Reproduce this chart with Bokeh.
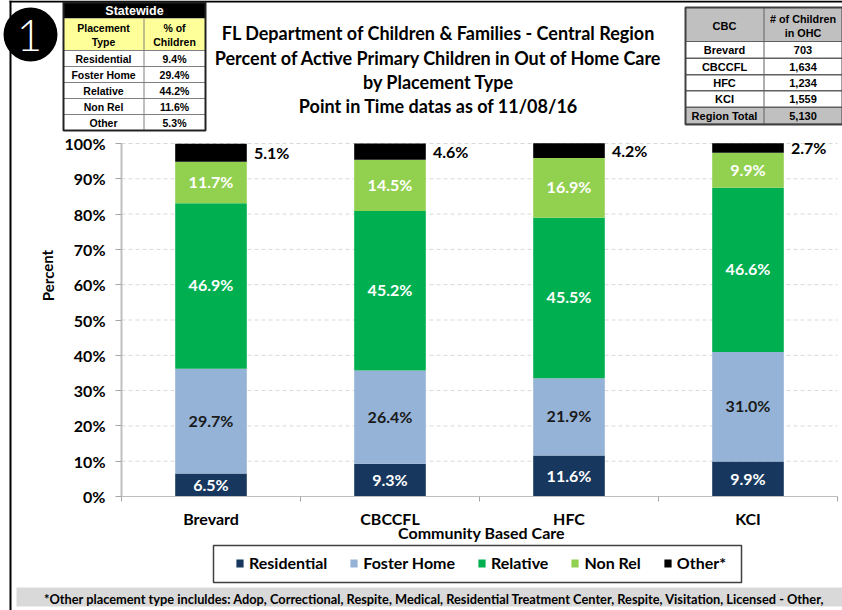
from bokeh.plotting import figure
from bokeh.embed import file_html
from bokeh.resources import INLINE
from bokeh.core.properties import value
from bokeh.models import (ColumnDataSource, Range1d, BoxAnnotation, Label, Legend, LegendItem,
                          FixedTicker, PrintfTickFormatter, LinearAxis)

categories = ["Brevard", "CBCCFL", "HFC", "KCI"]
series_names = ["Residential", "Foster Home", "Relative", "Non Rel", "Other*"]
residential = [6.5, 9.3, 11.6, 9.9]
foster_home = [29.7, 26.4, 21.9, 31.0]
relative = [46.9, 45.2, 45.5, 46.6]
non_rel = [11.7, 14.5, 16.9, 9.9]
other = [5.1, 4.6, 4.2, 2.7]
series_colors = ["#17375E", "#95B3D7", "#00B050", "#92D050", "#000000"]
label_colors = ["#FFFFFF", "#1A1A1A", "#FFFFFF", "#FFFFFF"]
y_ticks = list(range(0, 101, 10))

title_lines = ["FL Department of Children & Families - Central Region",
               "Percent of Active Primary Children in Out of Home Care",
               "by Placement Type",
               "Point in Time datas as of 11/08/16"]
state_title = "Statewide"
state_head = ["Placement\nType", "% of\nChildren"]
state_types = ["Residential", "Foster Home", "Relative", "Non Rel", "Other"]
state_pcts = ["9.4%", "29.4%", "44.2%", "11.6%", "5.3%"]
cbc_head = ["CBC", "# of Children\nin OHC"]
cbc_names = ["Brevard", "CBCCFL", "HFC", "KCI", "Region Total"]
cbc_counts = ["703", "1,634", "1,234", "1,559", "5,130"]
footnote = ("*Other placement type incluldes: Adop, Correctional, Respite, Medical, "
            "Residential Treatment Center, Respite, Visitation, Licensed - Other,")

W, H = 842, 610
FL, FR, FT, FB = 121, 837, 143, 496
BODY = "Lato"
TBL = "Liberation Sans"
n = len(categories)
ux = (FR - FL) / n
uy = (FB - FT) / 100

p = figure(width=W, height=H, output_backend="svg", toolbar_location=None,
           x_range=Range1d(-FL / ux, (W - FL) / ux), y_range=Range1d(-(H - FB) / uy, 100 + FT / uy),
           min_border=0, outline_line_color=None, background_fill_color="white", border_fill_color="white",
           x_axis_type=None, y_axis_type=None)
p.extra_x_ranges["px"] = Range1d(0, W)
p.extra_y_ranges["px"] = Range1d(H, 0)

centers = [i + 0.5 for i in range(n)]
p.segment(x0=[0] * 10, x1=[n] * 10, y0=y_ticks[1:], y1=y_ticks[1:], line_color="#D9D9D9", line_dash="4 3",
          line_width=1, level="underlay")

source = ColumnDataSource(dict(x=centers, **dict(zip(series_names, [residential, foster_home, relative, non_rel, other]))))
bars = p.vbar_stack(series_names, x="x", width=0.4, source=source, color=series_colors, line_color=None)

yaxis = LinearAxis(ticker=FixedTicker(ticks=y_ticks), formatter=PrintfTickFormatter(format="%d%%"),
                   fixed_location=0, bounds=(0, 100))
yaxis.axis_line_color = "#BFBFBF"; yaxis.axis_line_width = 2
yaxis.major_tick_line_color = "#A6A6A6"; yaxis.major_tick_out = 6; yaxis.major_tick_in = 0
yaxis.minor_tick_line_color = None
yaxis.major_label_text_font = BODY; yaxis.major_label_text_font_style = "bold"
yaxis.major_label_text_font_size = "16px"; yaxis.major_label_text_color = "black"
yaxis.major_label_standoff = 10
p.add_layout(yaxis, "left")

xaxis = LinearAxis(ticker=FixedTicker(ticks=centers, minor_ticks=list(range(n + 1))),
                   fixed_location=0, bounds=(0, n))
xaxis.major_label_overrides = {c: t for c, t in zip(centers, categories)}
xaxis.axis_line_color = "#BFBFBF"; xaxis.axis_line_width = 1
xaxis.major_tick_line_color = None; xaxis.major_tick_out = 0; xaxis.major_tick_in = 0
xaxis.minor_tick_line_color = "#A6A6A6"; xaxis.minor_tick_out = 5; xaxis.minor_tick_in = 0
xaxis.major_label_text_font = BODY; xaxis.major_label_text_font_style = "bold"
xaxis.major_label_text_font_size = "16px"; xaxis.major_label_text_color = "black"
xaxis.major_label_standoff = 7
p.add_layout(xaxis, "below")

all_series = [residential, foster_home, relative, non_rel]
bases = [0.0] * n
for vals, col in zip(all_series, label_colors):
    mids = [b + v / 2 for b, v in zip(bases, vals)]
    bases = [b + v for b, v in zip(bases, vals)]
    s = ColumnDataSource(dict(x=centers, y=mids, t=[f"{v:.1f}%" for v in vals]))
    p.text("x", "y", text="t", source=s, text_align="center", text_baseline="middle", y_offset=-1,
           text_color=col, text_font=value(BODY), text_font_style="bold", text_font_size="16px")
s = ColumnDataSource(dict(x=[c + 0.24 for c in centers], y=[b + v / 2 for b, v in zip(bases, other)],
                          t=[f"{v:.1f}%" for v in other]))
p.text("x", "y", text="t", source=s, text_align="left", text_baseline="middle", text_color="black",
       text_font=value(BODY), text_font_style="bold", text_font_size="16px")

def box(l, t, r, b, fill, line=None, lw=1, radius=None):
    kw = dict(left=l, right=r, top=t, bottom=b, fill_color=fill or "white", fill_alpha=1 if fill else 0,
              line_color=line or "white", line_width=lw, line_alpha=1 if line else 0,
              x_range_name="px", y_range_name="px")
    if radius:
        kw["border_radius"] = radius
    p.add_layout(BoxAnnotation(**kw))

def txt(x, y, t, font=BODY, size=15, color="black", style="bold", align="center", angle=0):
    p.add_layout(Label(x=x, y=y, text=t, x_range_name="px", y_range_name="px", text_font=font,
                       text_font_size=f"{size}px", text_color=color, text_font_style=style,
                       text_align=align, text_baseline="middle", angle=angle))

box(9, 0, 11, H, "black")
box(9, 0, W, 2, "black")
box(3, 7, 57, 61, "black", radius=27)
txt(29, 35, "1", font="Lato Light", size=44, color="white", style="normal")

for y, line in zip([32, 57, 81, 105], title_lines):
    txt(438, y, line, size=18)
txt(47, 275, "Percent", size=15, angle=1.5708)
txt(481, 532, "Community Based Care", size=16)

L, M, R = 63, 143, 205
box(L, 2, R, 130, "white")
box(L, 2, R, 18, "black")
txt((L + R) / 2, 10, state_title, font=TBL, size=12.5, color="white")
box(L, 18, R, 50, "#FFFF99")
for x, h in zip([(L + M) / 2, (M + R) / 2], state_head):
    a, b = h.split("\n")
    txt(x, 27, a, font=TBL, size=10.5); txt(x, 41, b, font=TBL, size=10.5)
for i, (a, b) in enumerate(zip(state_types, state_pcts)):
    t = 50 + 16 * i
    box(L, t, R, t + 16, None, "#808080", 1)
    txt((L + M) / 2, t + 8, a, font=TBL, size=10.5); txt((M + R) / 2, t + 8, b, font=TBL, size=10.5)
box(M, 18, M + 1, 130, "#808080")
box(L, 2, R, 130, None, "#222222", 2)

L2, M2, R2 = 685, 763, 842
box(L2, 7, R2, 41, "#C0C0C0")
box(L2, 107, R2, 124, "#C0C0C0")
txt((L2 + M2) / 2, 25, cbc_head[0], font=TBL, size=11)
a, b = cbc_head[1].split("\n")
txt((M2 + R2) / 2, 18, a, font=TBL, size=10.8); txt((M2 + R2) / 2, 32, b, font=TBL, size=10.8)
for t, a, b in zip([41, 58, 74, 90, 107], cbc_names, cbc_counts):
    box(L2, t, R2, t + 16.5, None, "#606060", 1)
    txt((L2 + M2) / 2, t + 8.5, a, font=TBL, size=11); txt((M2 + R2) / 2, t + 8.5, b, font=TBL, size=11)
box(M2, 7, M2 + 1, 124, "#606060")
box(L2, 7, R2, 124, None, "#404040", 2)

box(16, 587, W, 606, "#D9D9D9")
txt(434, 598, footnote, size=12.8)

box(213, 545, 741, 582, "white", "#404040", 1.5)
legend = Legend(items=[LegendItem(label=t, renderers=[r]) for t, r in zip(series_names, bars)],
                orientation="horizontal", location=(235, H - 572),
                border_line_color=None, background_fill_alpha=0,
                glyph_width=9, glyph_height=10, label_standoff=5, spacing=22, padding=0, margin=0,
                label_text_font=BODY, label_text_font_style="bold", label_text_font_size="16px",
                label_text_color="black")
p.add_layout(legend, "center")

open("out.html", "w").write(file_html(p, INLINE))
